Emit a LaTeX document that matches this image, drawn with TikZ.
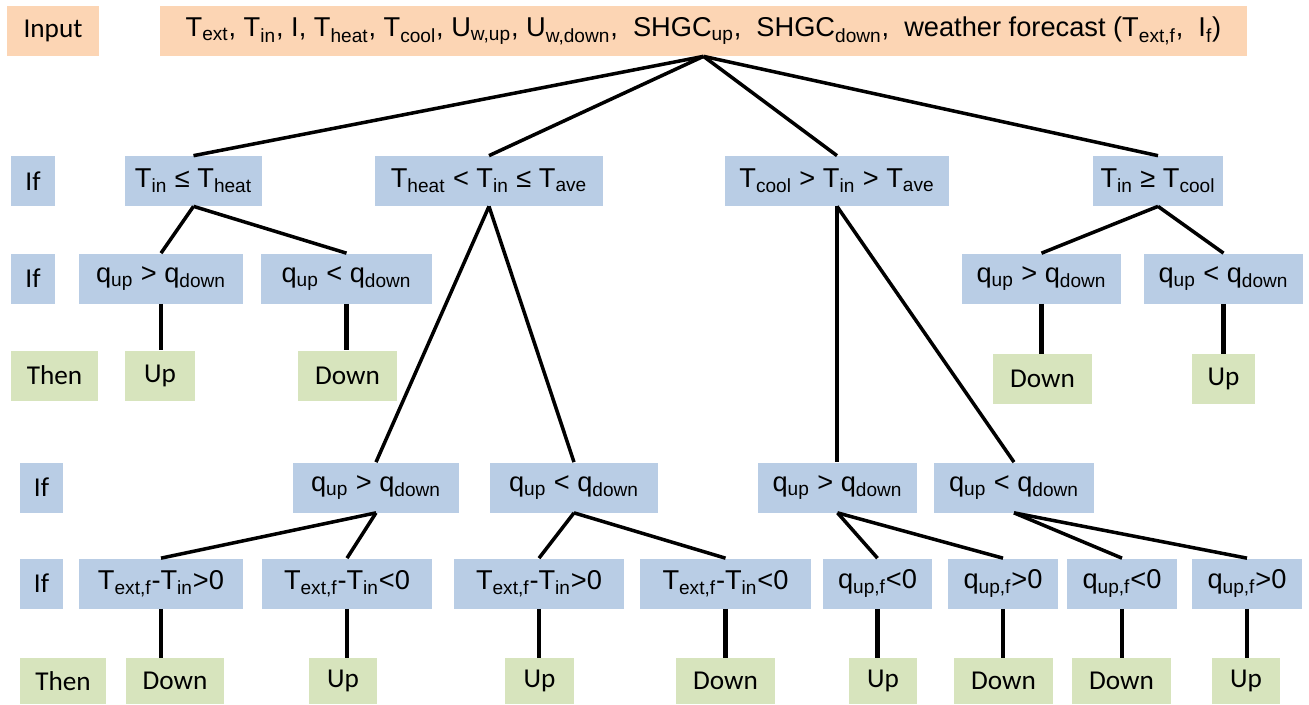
\documentclass[tikz,border=0pt]{standalone}
\usepackage{fontspec}
\setmainfont{Liberation Sans}
\newfontfamily\calib{Carlito}
\newcommand{\sbx}[1]{\textsubscript{#1}}
\definecolor{inputfill}{RGB}{252,213,180}
\definecolor{iffill}{RGB}{185,205,229}
\definecolor{thenfill}{RGB}{215,228,189}
\tikzset{
  base/.style={inner sep=0pt, minimum height=1cm, font=\fontsize{15.5}{18}\selectfont},
  lbl/.style={font=\calib\fontsize{15.5}{18}\selectfont},
  inbox/.style={base, fill=inputfill},
  ifbox/.style={base, fill=iffill},
  thenbox/.style={base, lbl, fill=thenfill},
  link/.style={line width=2pt},
  drop/.style={line width=2.5pt},
}
\begin{document}
\begin{tikzpicture}[x=0.02cm, y=-0.02cm]
        \useasboundingbox (0,0) rectangle (1309,704);
        \node[inbox, lbl, minimum width=1.84cm] (input) at (53,31) {Input};
        \node[inbox, minimum width=21.74cm] (root) at (703.5,31) {T\sbx{ext}, T\sbx{in}, I, T\sbx{heat}, T\sbx{cool}, U\sbx{w,up}, U\sbx{w,down},\ \ SHGC\sbx{up},\ \ SHGC\sbx{down},\ \ weather forecast (T\sbx{ext,f},\ \ I\sbx{f})};

        \node[ifbox, lbl, minimum width=0.88cm] (if1) at (33,181) {If};
        \node[ifbox, minimum width=2.74cm] (c1) at (193.5,181) {T\sbx{in} ≤ T\sbx{heat}};
        \node[ifbox, minimum width=4.56cm] (c2) at (489,181) {T\sbx{heat} < T\sbx{in} ≤ T\sbx{ave}};
        \node[ifbox, minimum width=4.48cm] (c3) at (837,181) {T\sbx{cool} > T\sbx{in} > T\sbx{ave}};
        \node[ifbox, minimum width=2.6cm] (c4) at (1158,181) {T\sbx{in} ≥ T\sbx{cool}};

        \node[ifbox, lbl, minimum width=0.88cm] (if2) at (33,278.5) {If};
        \node[ifbox, minimum width=3.28cm] (c11) at (161,278.5) {q\sbx{up} > q\sbx{down}};
        \node[ifbox, minimum width=3.42cm] (c12) at (346.5,278.5) {q\sbx{up} < q\sbx{down}};
        \node[ifbox, minimum width=3.18cm] (c41) at (1041.5,278.5) {q\sbx{up} > q\sbx{down}};
        \node[ifbox, minimum width=3.18cm] (c42) at (1223.5,278.5) {q\sbx{up} < q\sbx{down}};

        \node[thenbox, minimum width=1.74cm] (then1) at (54.5,375.5) {Then};
        \node[thenbox, minimum width=1.4cm] (a11) at (160,375.5) {Up};
        \node[thenbox, minimum width=1.98cm] (a12) at (347.5,375.5) {Down};
        \node[thenbox, minimum width=1.98cm] (a41) at (1042.5,379) {Down};
        \node[thenbox, minimum width=1.25cm] (a42) at (1223.5,379) {Up};

        \node[ifbox, lbl, minimum width=0.86cm] (if3) at (41.5,487.5) {If};
        \node[ifbox, minimum width=3.32cm] (c21) at (376,487.5) {q\sbx{up} > q\sbx{down}};
        \node[ifbox, minimum width=3.36cm] (c22) at (574,487.5) {q\sbx{up} < q\sbx{down}};
        \node[ifbox, minimum width=3.18cm] (c31) at (837.5,487.5) {q\sbx{up} > q\sbx{down}};
        \node[ifbox, minimum width=3.2cm] (c32) at (1014,487.5) {q\sbx{up} < q\sbx{down}};

        \node[ifbox, lbl, minimum width=0.86cm] (if4) at (41.5,583.5) {If};
        \node[ifbox, minimum width=3.28cm] (c211) at (161,583.5) {T\sbx{ext,f}-T\sbx{in}>0};
        \node[ifbox, minimum width=3.4cm] (c212) at (347,583.5) {T\sbx{ext,f}-T\sbx{in}<0};
        \node[ifbox, minimum width=3.4cm] (c221) at (539,583.5) {T\sbx{ext,f}-T\sbx{in}>0};
        \node[ifbox, minimum width=3.42cm] (c222) at (725.5,583.5) {T\sbx{ext,f}-T\sbx{in}<0};
        \node[ifbox, minimum width=2.18cm] (c311) at (877.5,583.5) {q\sbx{up,f}<0};
        \node[ifbox, minimum width=2.2cm] (c312) at (1003,583.5) {q\sbx{up,f}>0};
        \node[ifbox, minimum width=2.2cm] (c321) at (1122,583.5) {q\sbx{up,f}<0};
        \node[ifbox, minimum width=2.2cm] (c322) at (1247,583.5) {q\sbx{up,f}>0};

        \node[thenbox, minimum height=0.92cm, minimum width=1.72cm] (then2) at (63,681) {Then};
        \node[thenbox, minimum height=0.92cm, minimum width=1.96cm] (a211) at (175,681) {Down};
        \node[thenbox, minimum height=0.92cm, minimum width=1.36cm] (a212) at (343,681) {Up};
        \node[thenbox, minimum height=0.92cm, minimum width=1.38cm] (a221) at (539.5,681) {Up};
        \node[thenbox, minimum height=0.92cm, minimum width=1.98cm] (a222) at (725.5,681) {Down};
        \node[thenbox, minimum height=0.92cm, minimum width=1.36cm] (a311) at (883,681) {Up};
        \node[thenbox, minimum height=0.92cm, minimum width=1.98cm] (a312) at (1003.5,681) {Down};
        \node[thenbox, minimum height=0.92cm, minimum width=1.98cm] (a321) at (1121.5,681) {Down};
        \node[thenbox, minimum height=0.92cm, minimum width=1.36cm] (a322) at (1246,681) {Up};

        \foreach \p/\c in {root/c1,root/c2,root/c3,root/c4,c1/c11,c1/c12,c2/c21,c2/c22,c3/c32,c4/c41,c4/c42,c21/c211,c21/c212,c22/c221,c22/c222,c31/c311,c31/c312,c32/c321,c32/c322} {
                \draw[link] (\p.south) -- (\c.north);
            }
        \draw[drop] (c3.south) -- (c3.south |- c31.north);
        \foreach \p/\c in {c11/a11,c12/a12,c41/a41,c42/a42,c211/a211,c212/a212,c221/a221,c222/a222,c311/a311,c312/a312,c321/a321,c322/a322} {
                \draw[drop] (\p.south) -- (\p.south |- \c.north);
            }
    \end{tikzpicture}
\end{document}
